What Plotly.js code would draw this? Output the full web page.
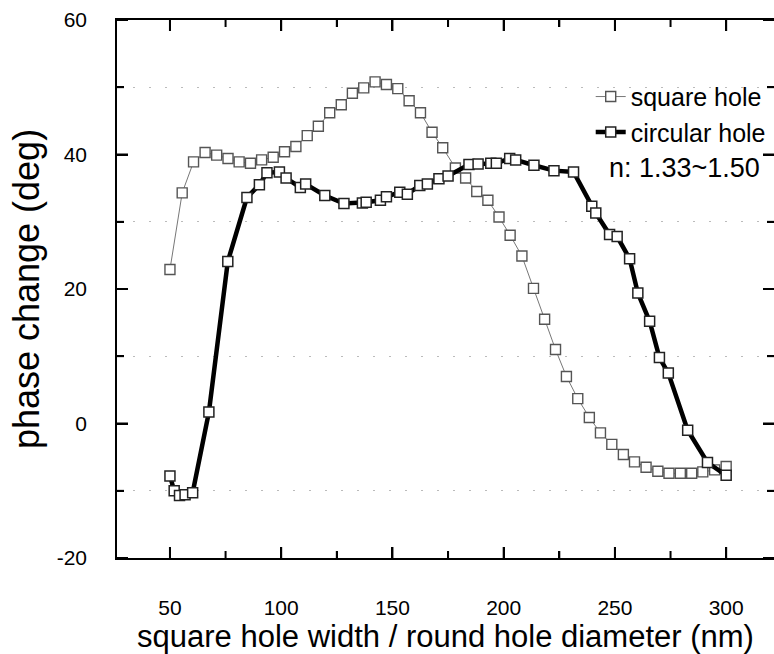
<!DOCTYPE html>
<html>
<head>
<meta charset="utf-8">
<script src="https://cdn.plot.ly/plotly-3.0.1.min.js"></script>
<style>html,body{margin:0;padding:0;background:#fff;}#chart{width:774px;height:654px;}</style>
</head>
<body>
<div id="chart"></div>
<script>
const squareX = [50, 55.5, 60.6, 65.8, 71, 76.1, 81.1, 86.2, 91.2, 96.4, 101.5, 106.6, 111.7, 116.7, 121.8, 127, 132, 137.1, 142.2, 147.3, 152.4, 157.5, 162.6, 167.8, 172.6, 178.3, 182.9, 187.9, 192.9, 197.9, 202.9, 208.2, 213.4, 218.4, 223.3, 228.2, 233.3, 238.5, 243.5, 248.6, 253.8, 258.8, 264, 269.3, 274.3, 279.4, 284.5, 289.5, 294.8, 300];
const squareY = [22.9, 34.3, 38.9, 40.3, 39.9, 39.4, 38.9, 38.7, 39.2, 39.6, 40.4, 41.2, 42.8, 44.2, 46.2, 47.4, 49.1, 49.9, 50.8, 50.4, 49.8, 48.0, 46.2, 43.3, 41.0, 38.0, 36.5, 34.5, 33.2, 30.7, 28.0, 24.9, 20.1, 15.5, 11.0, 7.0, 3.7, 0.9, -1.4, -3.1, -4.6, -5.7, -6.5, -7.1, -7.4, -7.4, -7.4, -7.2, -6.9, -6.4];

const circleX = [50, 51.9, 54.3, 56.8, 60.2, 67.5, 76, 84.6, 90.2, 93.6, 99.2, 102.2, 108.6, 111, 119.6, 128.2, 136.5, 138.2, 144.6, 147.3, 153.3, 156.7, 162.3, 165.7, 170.9, 175, 184.4, 188.5, 194.2, 196.7, 202.7, 205.4, 213.6, 222.6, 231.4, 239.6, 241.4, 247.6, 251, 256.6, 260.3, 265.6, 270, 274, 282.7, 291.6, 300];
const circleY = [-7.8, -10.0, -10.7, -10.6, -10.3, 1.7, 24.1, 33.6, 35.5, 37.3, 37.4, 36.5, 35.1, 35.6, 33.9, 32.7, 32.8, 32.9, 33.2, 33.7, 34.4, 34.1, 35.4, 35.6, 36.4, 36.8, 38.5, 38.6, 38.7, 38.7, 39.4, 39.2, 38.4, 37.6, 37.4, 32.3, 31.3, 28.1, 27.8, 24.5, 19.4, 15.2, 9.8, 7.5, -1.0, -5.8, -7.7];

const seriesNames = ["square hole", "circular hole"];
const xTickVals = [50, 100, 150, 200, 250, 300];
const xMinorVals = [75, 125, 175, 225, 275];
const yTickVals = [-20, 0, 20, 40, 60];
const yTickText = ["-20", "0", "20", "40", "60"];
const yMinorVals = [-10, 10, 30, 50];
const noteText = "n: 1.33~1.50";

const FONT = "Liberation Sans, Arial, sans-serif";

const traces = [
  {
    x: squareX, y: squareY, name: seriesNames[0], type: "scatter", mode: "lines+markers",
    line: {color: "#777", width: 1},
    marker: {symbol: "square", size: 10, color: "#fff", line: {color: "#555", width: 1.4}}
  },
  {
    x: circleX, y: circleY, name: seriesNames[1], type: "scatter", mode: "lines+markers",
    line: {color: "#000", width: 4.5},
    marker: {symbol: "square", size: 10, color: "#fff", line: {color: "#222", width: 1.5}}
  }
];

// tick marks pointing into the plot on all four sides, positioned through the axes
function xTick(v, len) {
  const base = {type: "rect", xref: "x", yref: "paper", xsizemode: "pixel", ysizemode: "pixel",
                xanchor: v, x0: -1, x1: 1, fillcolor: "#000", line: {width: 0}};
  return [
    Object.assign({}, base, {yanchor: 0, y0: 0, y1: len}),
    Object.assign({}, base, {yanchor: 1, y0: -len, y1: 0})
  ];
}
function yTick(v, len, w) {
  return [
    {type: "line", xref: "paper", yref: "y", y0: v, y1: v, xsizemode: "pixel", xanchor: 0, x0: 0, x1: len, line: {color: "#000", width: w}},
    {type: "line", xref: "paper", yref: "y", y0: v, y1: v, xsizemode: "pixel", xanchor: 1, x0: 0, x1: -len, line: {color: "#000", width: w}}
  ];
}
const tickShapes = [].concat(
  ...xTickVals.map(v => xTick(v, 11)),
  ...xMinorVals.map(v => xTick(v, 7)),
  ...yTickVals.map(v => yTick(v, 11, 2)),
  ...yMinorVals.map(v => yTick(v, 7, 1.8))
);

const layout = {
  width: 774, height: 654,
  margin: {l: 117, r: 0, t: 20, b: 96},
  paper_bgcolor: "#fff", plot_bgcolor: "#fff",
  font: {family: FONT, color: "#000"},
  showlegend: true,
  legend: {
    x: 0.995, xanchor: "right", y: 0.9, yanchor: "top",
    bgcolor: "rgba(0,0,0,0)", font: {size: 25, family: FONT},
    tracegroupgap: 0, itemwidth: 30
  },
  xaxis: {
    range: [26.2, 321.5],
    tickmode: "array", tickvals: xTickVals, ticktext: xTickVals.map(String),
    ticks: "inside", ticklen: 11, tickwidth: 2, tickcolor: "#000",
    minor: {tickvals: xMinorVals, ticks: "inside", ticklen: 7, tickwidth: 1.8, tickcolor: "#000"},
    showline: true, linecolor: "#000", linewidth: 1.8, mirror: "ticks",
    showgrid: false, zeroline: false,
    tickfont: {size: 21, family: FONT},
    ticklabelstandoff: 30,
    title: {text: "square hole width / round hole diameter (nm)", font: {size: 31, family: FONT}, standoff: 10}
  },
  yaxis: {
    range: [-20, 60],
    tickmode: "array", tickvals: yTickVals, ticktext: yTickText,
    ticks: "inside", ticklen: 11, tickwidth: 2, tickcolor: "#000",
    minor: {tickvals: yMinorVals, ticks: "inside", ticklen: 7, tickwidth: 1.8, tickcolor: "#000",
            showgrid: true, gridcolor: "#bbb", gridwidth: 1, griddash: "2px,14px"},
    showline: true, linecolor: "#000", linewidth: 1.8, mirror: "ticks",
    showgrid: false, zeroline: false,
    tickfont: {size: 21, family: FONT},
    ticklabelstandoff: 24,
    title: {text: "phase change (deg)", font: {size: 36, family: FONT}, standoff: 6}
  },
  shapes: tickShapes,
  annotations: [{
    text: noteText, xref: "paper", yref: "paper", x: 0.982, y: 0.725,
    xanchor: "right", yanchor: "middle", showarrow: false,
    font: {size: 27, family: FONT, color: "#000"}
  }]
};

Plotly.newPlot("chart", traces, layout, {displayModeBar: false, staticPlot: true});
</script>
</body>
</html>
